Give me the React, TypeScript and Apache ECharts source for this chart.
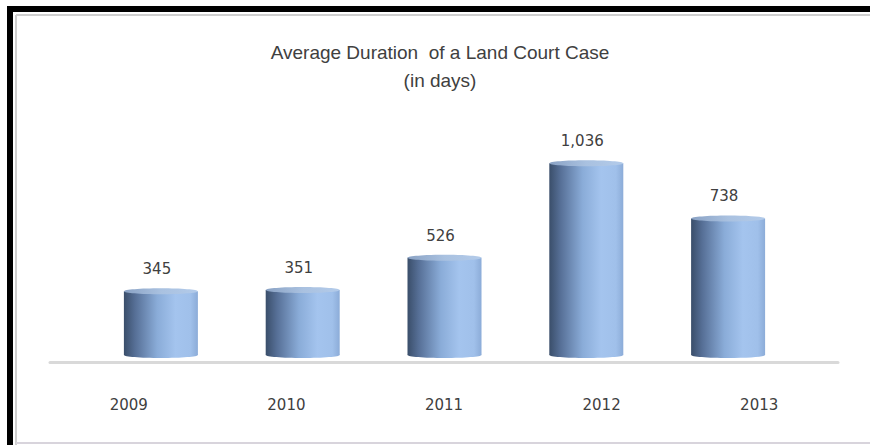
import React, { useEffect, useRef } from "react";
import * as echarts from "echarts";

const years = ["2009", "2010", "2011", "2012", "2013"];
const durations = [345, 351, 526, 1036, 738];
const titleLines = ["Average Duration  of a Land Court Case", "(in days)"];

export default function App() {
  const ref = useRef<HTMLDivElement>(null);
  useEffect(() => {
    document.body.style.margin = "0";
    const chart = echarts.init(ref.current!, null, { renderer: "svg" });
    const bodyGrad = new echarts.graphic.LinearGradient(0, 0, 1, 0, [
      { offset: 0, color: "#3a4e6a" },
      { offset: 0.15, color: "#566f96" },
      { offset: 0.45, color: "#8aacd8" },
      { offset: 0.7, color: "#a4c4ee" },
      { offset: 0.9, color: "#a0c0ea" },
      { offset: 1, color: "#8cacd8" },
    ]);
    const topGrad = new echarts.graphic.LinearGradient(0, 0, 1, 0, [
      { offset: 0, color: "#8aa2c4" },
      { offset: 0.5, color: "#a9c1e0" },
      { offset: 1, color: "#b3cbea" },
    ]);
    chart.setOption({
      animation: false,
      backgroundColor: "#ffffff",
      title: {
        text: titleLines.join("\n"),
        left: 435,
        textAlign: "center",
        top: 33,
        textStyle: {
          fontFamily: "'Liberation Sans', sans-serif",
          fontSize: 19,
          fontWeight: "normal",
          color: "#404040",
          lineHeight: 28,
        },
      },
      grid: [
        { left: 50, right: 32, top: 133, bottom: 83 },
        { left: 90, right: 71, top: 133, bottom: 90 },
      ],
      xAxis: [
        {
          type: "category",
          gridIndex: 0,
          data: years,
          axisLine: { lineStyle: { color: "#d9d9d9", width: 3 } },
          axisTick: { show: false },
          axisLabel: {
            margin: 35,
            fontFamily: "'DejaVu Sans', sans-serif",
            fontSize: 15,
            color: "#404040",
          },
        },
        {
          type: "category",
          gridIndex: 1,
          data: years,
          show: false,
        },
      ],
      yAxis: [
        { type: "value", gridIndex: 0, min: 0, max: 1200, show: false },
        { type: "value", gridIndex: 1, min: 0, max: 1200, show: false },
      ],
      series: [
        {
          type: "custom",
          xAxisIndex: 1,
          yAxisIndex: 1,
          data: durations.map((v, i) => [i, v]),
          renderItem: (params: any, api: any) => {
            const idx = api.value(0);
            const v = api.value(1);
            const top = api.coord([idx, v]);
            const base = api.coord([idx, 0]);
            const w = 74;
            const rx = w / 2;
            const ry = 3;
            const cx = top[0];
            return {
              type: "group",
              children: [
                {
                  type: "ellipse",
                  shape: { cx, cy: base[1], rx, ry },
                  style: { fill: bodyGrad },
                },
                {
                  type: "rect",
                  shape: { x: cx - rx, y: top[1], width: w, height: base[1] - top[1] },
                  style: { fill: bodyGrad },
                },
                {
                  type: "ellipse",
                  shape: { cx, cy: top[1], rx, ry },
                  style: { fill: topGrad },
                },
                {
                  type: "text",
                  style: {
                    text: v.toLocaleString("en-US"),
                    x: cx - 4,
                    y: top[1] - 22,
                    textAlign: "center",
                    textVerticalAlign: "middle",
                    fontFamily: "'DejaVu Sans', sans-serif",
                    fontSize: 15,
                    fill: "#404040",
                  },
                },
              ],
            };
          },
        },
      ],
      graphic: [
        { type: "rect", shape: { x: 7, y: 6, width: 6, height: 445 }, style: { fill: "#000" } },
        { type: "rect", shape: { x: 7, y: 6, width: 870, height: 6 }, style: { fill: "#000" } },
        { type: "line", shape: { x1: 16, y1: 15, x2: 870, y2: 15 }, style: { stroke: "#cfcfcf", lineWidth: 2 } },
        { type: "line", shape: { x1: 16, y1: 15, x2: 16, y2: 445 }, style: { stroke: "#cfcfcf", lineWidth: 2 } },
        { type: "line", shape: { x1: 16, y1: 443, x2: 870, y2: 443 }, style: { stroke: "#d8d4dc", lineWidth: 2 } },
      ],
    });
    return () => chart.dispose();
  }, []);
  return <div ref={ref} style={{ width: 870, height: 445 }} />;
}
